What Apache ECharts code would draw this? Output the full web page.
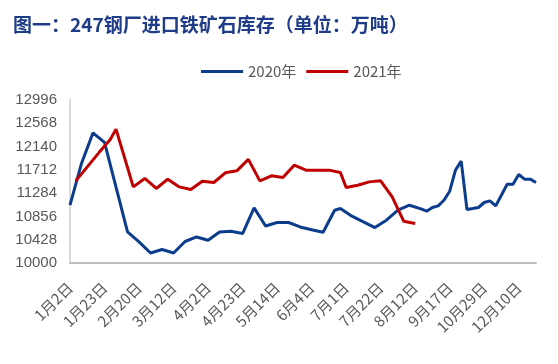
<!DOCTYPE html>
<html>
<head>
<meta charset="utf-8">
<script src="https://cdn.jsdelivr.net/npm/echarts@6/dist/echarts.min.js"></script>
<style>
html, body { margin: 0; padding: 0; background: #fff; }
#main { width: 558px; height: 364px; }
</style>
</head>
<body>
<div id="main"></div>
<script>
// 横轴：2020年与2021年周度日期合并（按月日排序）
var cats = ['1月2日','1月7日','1月9日','1月14日','1月16日','1月21日','1月23日','1月28日','2月4日','2月6日',
    '2月13日','2月18日','2月20日','2月25日','2月27日','3月4日','3月5日','3月11日','3月12日','3月18日',
    '3月19日','3月25日','3月26日','4月1日','4月2日','4月8日','4月9日','4月15日','4月16日','4月22日',
    '4月23日','4月29日','4月30日','5月6日','5月7日','5月13日','5月14日','5月20日','5月21日','5月27日',
    '5月28日','6月3日','6月4日','6月10日','6月11日','6月17日','6月18日','6月24日','7月1日','7月2日',
    '7月8日','7月9日','7月15日','7月16日','7月22日','7月23日','7月29日','7月30日','8月5日','8月6日',
    '8月12日','8月13日','8月20日','8月27日','9月3日','9月10日','9月17日','9月24日','9月30日','10月9日',
    '10月15日','10月22日','10月29日','11月5日','11月12日','11月19日','11月26日','12月3日','12月10日','12月17日',
    '12月24日','12月31日'];

// 2020年
var dates2020 = ['1月2日','1月9日','1月16日','1月23日','2月13日','2月20日','2月27日','3月5日','3月12日','3月19日',
    '3月26日','4月2日','4月9日','4月16日','4月23日','4月30日','5月7日','5月14日','5月21日','5月28日',
    '6月4日','6月11日','6月18日','6月24日','7月2日','7月9日','7月16日','7月23日','7月30日','8月6日',
    '8月13日','8月20日','8月27日','9月3日','9月10日','9月17日','9月24日','9月30日','10月9日','10月15日',
    '10月22日','10月29日','11月5日','11月12日','11月19日','11月26日','12月3日','12月10日','12月17日','12月24日',
    '12月31日'];
var vals2020 = [11062, 11830, 12393, 12216, 10571, 10387, 10184, 10247, 10184, 10395,
    10479, 10418, 10571, 10584, 10541, 11013, 10681, 10744, 10744, 10663,
    10610, 10565, 10970, 11001, 10860, 10755, 10652, 10786, 10970, 11062,
    10995, 10952, 11020, 11050, 11154, 11320, 11707, 11872, 10983, 11001,
    11020, 11112, 11141, 11050, 11250, 11449, 11449, 11627, 11541, 11541,
    11480];

// 2021年
var dates2021 = ['1月7日','1月14日','1月21日','1月28日','2月4日','2月18日','2月25日','3月4日','3月11日','3月18日',
    '3月25日','4月1日','4月8日','4月15日','4月22日','4月29日','5月6日','5月13日','5月20日','5月27日',
    '6月3日','6月10日','6月17日','6月24日','7月1日','7月8日','7月15日','7月22日','7月29日','8月5日',
    '8月12日'];
var vals2021 = [11510, 11767, 12025, 12270, 12461, 11399, 11554, 11370, 11541, 11399,
    11351, 11504, 11480, 11657, 11694, 11904, 11510, 11602, 11572, 11799,
    11707, 11707, 11707, 11664, 11388, 11430, 11491, 11510, 11215, 10768,
    10725];

// 纵轴刻度
var yMin = 10000, yMax = 12996, yStep = 428;

function toSeries(dates, vals) {
    var arr = cats.map(function () { return null; });
    for (var i = 0; i < dates.length; i++) {
        arr[cats.indexOf(dates[i])] = vals[i];
    }
    return arr;
}

var myChart = echarts.init(document.getElementById('main'));
var option = {
    animation: false,
    title: {
        text: '图一：247钢厂进口铁矿石库存（单位：万吨）',
        left: 8,
        top: 10,
        textStyle: {
            fontFamily: 'Noto Sans CJK SC',
            fontSize: 19,
            fontWeight: 'bold',
            color: '#1F3C88'
        }
    },
    legend: {
        left: 196,
        top: 59,
        icon: 'rect',
        itemWidth: 42,
        itemHeight: 3,
        itemGap: 10,
        textStyle: { fontFamily: 'Noto Sans CJK SC', fontSize: 15, color: '#595959' },
        data: ['2020年', '2021年']
    },
    grid: { left: 70, right: 22, top: 100, bottom: 101 },
    xAxis: {
        type: 'category',
        boundaryGap: false,
        data: cats,
        axisLine: { lineStyle: { color: '#BFBFBF', width: 2 } },
        axisTick: { show: false },
        axisLabel: {
            interval: 5,
            rotate: 45,
            margin: 22,
            fontFamily: 'Noto Sans CJK SC',
            fontSize: 15,
            color: '#595959'
        }
    },
    yAxis: {
        type: 'value',
        min: yMin,
        max: yMax,
        interval: yStep,
        axisLine: { show: true, lineStyle: { color: '#D9D9D9', width: 2 } },
        axisTick: { show: false },
        splitLine: { show: false },
        axisLabel: {
            margin: 13,
            fontFamily: 'Liberation Sans',
            fontSize: 15,
            color: '#595959',
            formatter: function (v) { return String(v); }
        }
    },
    series: [
        {
            name: '2020年', type: 'line', data: toSeries(dates2020, vals2020),
            connectNulls: true, symbol: 'none',
            itemStyle: { color: '#0B3D8C' },
            lineStyle: { color: '#0B3D8C', width: 3 }
        },
        {
            name: '2021年', type: 'line', data: toSeries(dates2021, vals2021),
            connectNulls: true, symbol: 'none',
            itemStyle: { color: '#C00000' },
            lineStyle: { color: '#C00000', width: 3 }
        }
    ]
};
myChart.setOption(option);
</script>
</body>
</html>
